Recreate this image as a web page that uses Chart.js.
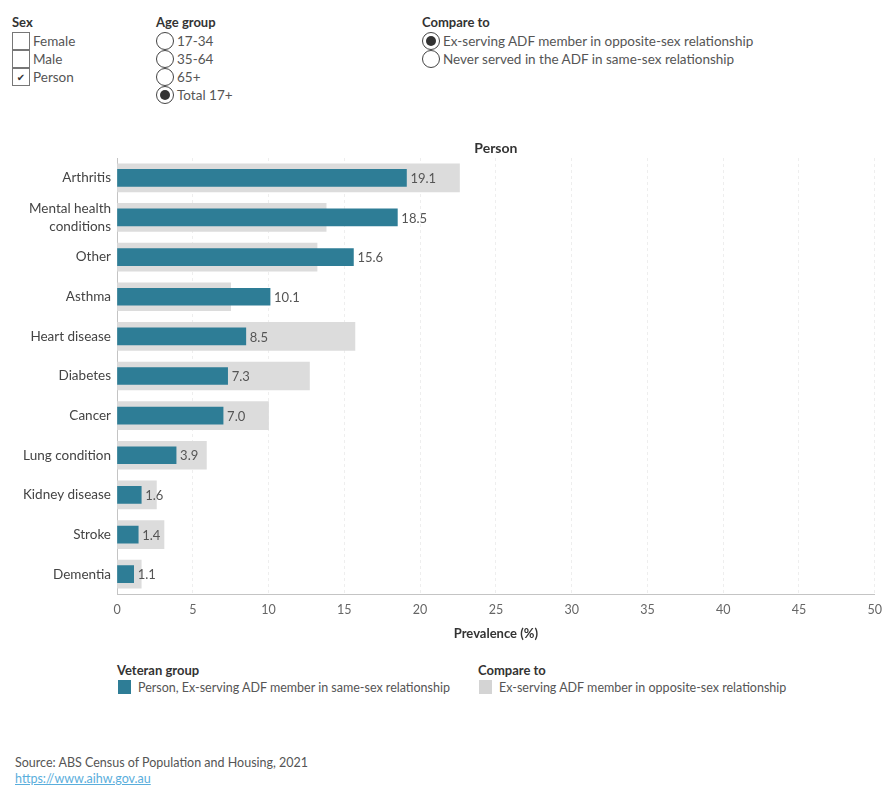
<!DOCTYPE html>
<html>
<head>
<meta charset="utf-8">
<script src="https://cdn.jsdelivr.net/npm/chart.js"></script>
<style>
  body { margin: 0; width: 890px; height: 800px; background: #fff; position: relative; overflow: hidden;
         font-family: Lato, "Noto Sans", sans-serif; color: #555; }
  .abs { position: absolute; white-space: nowrap; }
  .hdr { font-size: 13px; font-weight: bold; color: #333; }
  .opt { position: absolute; height: 18px; display: flex; align-items: center; font-size: 13.5px; color: #555; white-space: nowrap; }
  .box { width: 18px; height: 18px; border: 1px solid #777; box-sizing: border-box; margin-right: 3px;
         font: 10px "DejaVu Sans"; color: #333; text-align: center; line-height: 17px; }
  .radio { width: 18px; height: 18px; border: 1px solid #444; border-radius: 50%; box-sizing: border-box;
           margin-right: 3px; position: relative; }
  .radio.on::after { content: ""; position: absolute; left: 3px; top: 3px; width: 10px; height: 10px;
                     border-radius: 50%; background: #333; }
  .sw { display: inline-block; width: 13px; height: 14px; vertical-align: -2px; margin-right: 7px; }
  .leg { font-size: 12.5px; }
  #chart { position: absolute; left: 0; top: 130px; }
</style>
</head>
<body>

<div class="abs hdr" style="left:12px; top:14px;">Sex</div>
<div class="opt" style="left:12px; top:32px;"><div class="box"></div>Female</div>
<div class="opt" style="left:12px; top:50px;"><div class="box"></div>Male</div>
<div class="opt" style="left:12px; top:68px;"><div class="box">✔</div>Person</div>

<div class="abs hdr" style="left:156px; top:14px;">Age group</div>
<div class="opt" style="left:156px; top:32px;"><div class="radio"></div>17-34</div>
<div class="opt" style="left:156px; top:50px;"><div class="radio"></div>35-64</div>
<div class="opt" style="left:156px; top:68px;"><div class="radio"></div>65+</div>
<div class="opt" style="left:156px; top:86px;"><div class="radio on"></div>Total 17+</div>

<div class="abs hdr" style="left:422px; top:14px;">Compare to</div>
<div class="opt" style="left:422px; top:32px;"><div class="radio on"></div>Ex-serving ADF member in opposite-sex relationship</div>
<div class="opt" style="left:422px; top:50px;"><div class="radio"></div>Never served in the ADF in same-sex relationship</div>

<canvas id="chart" width="890" height="520"></canvas>

<div class="abs hdr" style="left:117px; top:662px;">Veteran group</div>
<div class="abs leg" style="left:118px; top:680px;"><span class="sw" style="background:#2e7d96"></span>Person, Ex-serving ADF member in same-sex relationship</div>
<div class="abs hdr" style="left:478px; top:662px;">Compare to</div>
<div class="abs leg" style="left:479px; top:680px;"><span class="sw" style="background:#d4d4d4"></span>Ex-serving ADF member in opposite-sex relationship</div>

<div class="abs leg" style="left:15px; top:755px;">Source: ABS Census of Population and Housing, 2021</div>
<div class="abs leg" style="left:15px; top:771px; color:#5aaedc; text-decoration:underline;">https://www.aihw.gov.au</div>

<script>
const categories = ["Arthritis", ["Mental health", "conditions"], "Other", "Asthma", "Heart disease",
    "Diabetes", "Cancer", "Lung condition", "Kidney disease", "Stroke", "Dementia"]
const veteranValues = [19.1, 18.5, 15.6, 10.1, 8.5, 7.3, 7.0, 3.9, 1.6, 1.4, 1.1]
const compareValues = [22.6, 13.8, 13.2, 7.5, 15.7, 12.7, 10.0, 5.9, 2.6, 3.1, 1.6]
const xTicks = [0, 5, 10, 15, 20, 25, 30, 35, 40, 45, 50]

const fontFamily = "Lato, 'Noto Sans', sans-serif"

/* value labels at the end of the teal bars */
const valueLabels = {
    id: "valueLabels",
    afterDatasetsDraw(chart) {
        const ctx = chart.ctx
        const meta = chart.getDatasetMeta(0)
        ctx.save()
        ctx.font = "13px " + fontFamily
        ctx.fillStyle = "#555"
        ctx.textBaseline = "middle"
        meta.data.forEach((bar, i) => {
            ctx.fillText(veteranValues[i].toFixed(1), bar.x + 4, bar.y + 1)
        })
        ctx.restore()
    }
}

/* "Person" heading centred over the plot */
const panelTitle = {
    id: "panelTitle",
    afterDraw(chart) {
        const { ctx, chartArea } = chart
        ctx.save()
        ctx.font = "bold 14px " + fontFamily
        ctx.fillStyle = "#333"
        ctx.textAlign = "center"
        ctx.textBaseline = "middle"
        ctx.fillText("Person", (chartArea.left + chartArea.right) / 2, chartArea.top - 10)
        ctx.restore()
    }
}

new Chart(document.querySelector("#chart"), {
    type: "bar",
    data: {
        labels: categories,
        datasets: [
            { label: "Person, Ex-serving ADF member in same-sex relationship", data: veteranValues,
              backgroundColor: "#2e7d96", barThickness: 17, grouped: false },
            { label: "Ex-serving ADF member in opposite-sex relationship", data: compareValues,
              backgroundColor: "#dcdcdc", barThickness: 28, grouped: false }
        ]
    },
    options: {
        indexAxis: "y",
        responsive: false,
        animation: false,
        layout: { padding: { top: 28, right: 13, left: 0, bottom: 0 } },
        plugins: { legend: { display: false }, tooltip: { enabled: false } },
        scales: {
            x: {
                min: 0, max: 50,
                afterBuildTicks: (s) => { s.ticks = xTicks.map(v => ({ value: v })) },
                afterFit: (s) => { s.height = 56 },
                ticks: { color: "#666", font: { size: 12.5, family: fontFamily }, padding: 8 },
                grid: { color: (c) => c.tick && c.tick.value === 0 ? "rgba(0,0,0,0)" : "#eeeeee", drawTicks: false },
                border: { color: "#c4c4c4", dash: [3, 3] },
                title: { display: true, text: "Prevalence (%)", color: "#333",
                         font: { size: 13, weight: "bold", family: fontFamily }, padding: { top: 4, bottom: 8 } }
            },
            y: {
                afterFit: (s) => { s.width = 117 },
                ticks: { color: "#444", font: { size: 13.5, family: fontFamily, lineHeight: 1.35 }, padding: 6 },
                grid: { display: false, drawTicks: false },
                border: { color: "#c4c4c4" }
            }
        }
    },
    plugins: [valueLabels, panelTitle]
})
</script>
</body>
</html>
